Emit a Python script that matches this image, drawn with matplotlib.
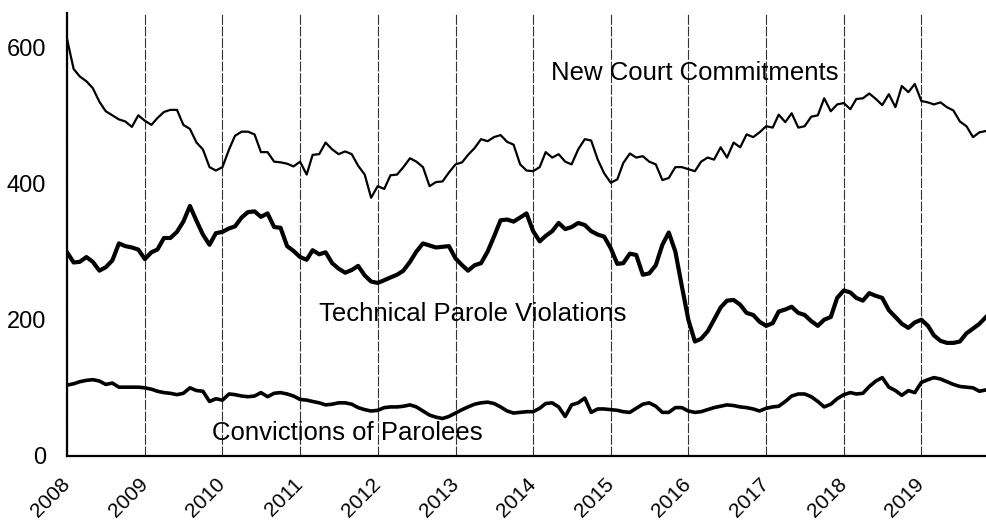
import matplotlib
matplotlib.use("Agg")
import matplotlib.pyplot as plt
import pandas as pd

# monthly counts, Jan 2008 - Nov 2019
months = pd.date_range("2008-01-01", periods=143, freq="MS")

new_court = [612, 568, 557, 550, 540, 520, 506, 500, 494, 491, 483, 500,
             492, 486, 496, 505, 508, 508, 486, 480, 460, 450, 424, 419,
             424, 450, 470, 476, 476, 472, 446, 446, 432, 431, 429, 425,
             432, 413, 442, 443, 460, 450, 443, 447, 443, 426, 413, 379,
             396, 392, 412, 413, 424, 437, 432, 424, 396, 402, 403, 416,
             428, 431, 442, 452, 465, 462, 468, 471, 461, 457, 428, 419,
             418, 424, 446, 438, 443, 432, 428, 450, 465, 463, 435, 415,
             401, 406, 430, 444, 438, 440, 432, 428, 405, 408, 424, 424,
             421, 418, 432, 438, 435, 453, 438, 460, 453, 472, 468, 475,
             484, 482, 501, 490, 503, 482, 484, 498, 500, 525, 506, 516,
             518, 509, 524, 525, 532, 524, 515, 531, 512, 543, 534, 546,
             521, 519, 516, 519, 512, 507, 491, 484, 468, 475, 477]

technical = [299, 284, 285, 292, 285, 272, 277, 287, 312, 308, 306, 303,
             289, 299, 303, 320, 320, 329, 344, 367, 345, 325, 310, 327,
             329, 334, 337, 350, 358, 359, 351, 356, 336, 335, 308, 301,
             292, 288, 302, 296, 299, 283, 275, 269, 273, 279, 265, 256,
             254, 258, 262, 266, 272, 285, 300, 312, 309, 306, 307, 308,
             290, 280, 272, 280, 283, 300, 322, 346, 347, 344, 350, 356,
             330, 315, 323, 330, 342, 333, 336, 342, 339, 330, 325, 322,
             305, 282, 283, 297, 295, 266, 268, 280, 310, 328, 300, 250,
             200, 168, 172, 183, 200, 218, 228, 229, 222, 210, 207, 197,
             191, 195, 212, 215, 219, 210, 207, 198, 191, 200, 204, 232,
             243, 240, 232, 228, 239, 235, 232, 214, 204, 194, 188, 196,
             200, 191, 177, 169, 166, 166, 168, 180, 187, 194, 204]

convictions = [104, 106, 109, 111, 112, 110, 105, 107, 101, 101, 101, 101,
               100, 98, 95, 93, 92, 90, 92, 100, 96, 95, 80, 84,
               82, 91, 90, 88, 87, 88, 93, 87, 92, 93, 91, 88,
               83, 82, 80, 78, 75, 76, 78, 78, 76, 71, 68, 66,
               67, 71, 72, 72, 73, 75, 72, 66, 60, 57, 55, 58,
               63, 68, 72, 76, 78, 79, 77, 72, 66, 63, 64, 65,
               65, 70, 77, 78, 72, 58, 75, 78, 85, 64, 69, 69,
               68, 67, 65, 64, 70, 76, 78, 73, 64, 64, 71, 71,
               66, 64, 65, 68, 71, 73, 75, 74, 72, 71, 69, 66,
               70, 72, 73, 80, 88, 91, 91, 87, 80, 72, 76, 84,
               90, 93, 91, 92, 102, 110, 115, 101, 96, 89, 96, 93,
               108, 112, 115, 113, 109, 105, 102, 101, 100, 95, 97]

years = pd.date_range("2008-01-01", "2019-01-01", freq="YS")
year_labels = [str(y.year) for y in years]

plt.rcParams["font.family"] = ["Liberation Sans", "DejaVu Sans"]

fig = plt.figure(figsize=(9.86, 5.21), dpi=100)
ax = fig.add_axes([0.068, 0.1248, 0.932, 0.850])

ax.plot(months, new_court, color="black", lw=1.6)
ax.plot(months, technical, color="black", lw=3.0)
ax.plot(months, convictions, color="black", lw=2.6)

ax.set_xlim(months[0], months[-1])
ax.set_ylim(0, 650)
ax.set_yticks([0, 200, 400, 600])
ax.set_xticks(years)
ax.set_xticklabels(year_labels, rotation=45, ha="right", va="center",
                   rotation_mode="anchor")
ax.tick_params(axis="y", length=0, pad=15, labelsize=17)
ax.tick_params(axis="x", length=0, pad=18, labelsize=15)

ax.grid(axis="x", color="0.2", lw=0.8, linestyle=(0, (9, 1.5)))
ax.set_axisbelow(True)
for side in ["top", "right"]:
    ax.spines[side].set_visible(False)
ax.spines["left"].set_linewidth(1.6)
ax.spines["bottom"].set_linewidth(1.6)

# series labels
ax.text(pd.Timestamp("2016-02-01"), 562, "New Court Commitments",
        ha="center", va="center", fontsize=18.5)
ax.text(pd.Timestamp("2013-03-25"), 208, "Technical Parole Violations",
        ha="center", va="center", fontsize=18.5)
ax.text(pd.Timestamp("2011-08-10"), 33, "Convictions of Parolees",
        ha="center", va="center", fontsize=18.5)

fig.savefig("out.png", dpi=100)
